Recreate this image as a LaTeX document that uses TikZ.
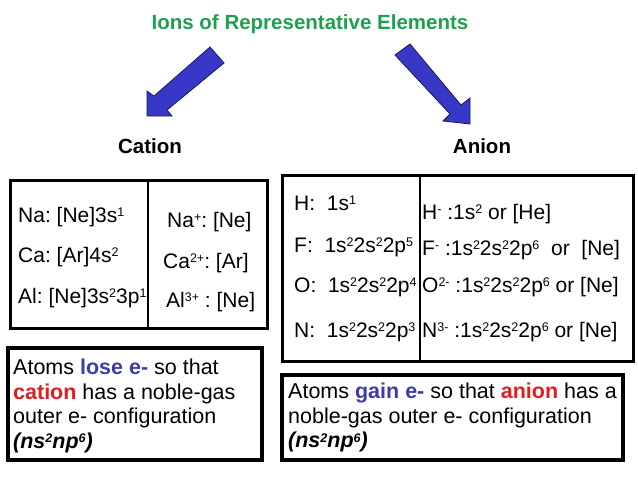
\documentclass[tikz,border=0pt]{standalone}
\usepackage{fontspec}
\setmainfont{Liberation Sans}
\usepackage{xcolor}
\definecolor{titlegreen}{RGB}{30,160,80}
\definecolor{arrowblue}{RGB}{56,56,200}
\definecolor{arrowedge}{RGB}{25,25,90}
\definecolor{textblue}{RGB}{60,60,175}
\definecolor{textred}{RGB}{225,30,30}
% small raised superscript, as in the slide
\newcommand{\sups}[1]{\raisebox{5.5pt}{\fontsize{12.5}{12.5}\selectfont #1}}
\tikzset{
  % style for the two big block arrows
  block arrow/.style={fill=arrowblue, draw=arrowedge, line width=0.8pt, line join=miter},
  % style for the frames of the tables and of the notes
  table frame/.style={draw=black, line width=3pt},
  note frame/.style={draw=black, line width=4pt},
  % styles for the texts
  heading/.style={anchor=base, inner sep=0pt, font=\bfseries\fontsize{20.5}{24}\selectfont},
  config/.style={anchor=base west, inner sep=0pt, font=\frenchspacing\fontsize{21}{24}\selectfont},
  notetext/.style={anchor=north west, inner sep=0pt, align=left, font=\frenchspacing\fontsize{21.5}{24.5}\selectfont},
}

\begin{document}
\begin{tikzpicture}[x=1pt, y=-1pt]
  \useasboundingbox (0,0) rectangle (638,479);
  % Draw the title and the headings
  \node[heading, text=titlegreen] (title) at (310,29) {Ions of Representative Elements};
  \node[heading] (cation) at (150,153) {Cation};
  \node[heading] (anion) at (482,153) {Anion};
  % Draw the block arrows
  \filldraw[block arrow] (210,47) -- (154,96) -- (147,91) -- (147,116) -- (172,116) -- (167,110) -- (224,63) -- cycle;
  \filldraw[block arrow] (410,44) -- (461,105) -- (470,98) -- (470,124) -- (443,121) -- (450,114) -- (395,55) -- cycle;
  % Draw the cation table
  \draw[table frame] (10,180) rectangle (267,328);
  \draw[line width=2.5pt] (148,180) -- (148,328);
  \foreach \tag/\y/\txt in {na/222/{Na: [Ne]3s\sups{1}},
                           ca/262/{Ca: [Ar]4s\sups{2}},
                           al/303/{Al: [Ne]3s\sups{2}3p\sups{1}}} {
    \node[config] (\tag) at (18,\y) {\txt};
  }
  \node[config] (naion) at (167,227) {Na\sups{+}: [Ne]};
  \node[config] (caion) at (163,268) {Ca\sups{2+}: [Ar]};
  \node[config] (alion) at (166,307) {Al\sups{3+} : [Ne]};
  % Draw the anion table
  \draw[table frame] (282,175) rectangle (633,361);
  \draw[line width=2.5pt] (420,175) -- (420,361);
  \node[config] (h) at (294,210) {H:~~1s\sups{1}};
  \node[config] (f) at (294,252) {F:~~1s\sups{2}2s\sups{2}2p\sups{5}};
  \node[config] (o) at (294,292) {O:~~1s\sups{2}2s\sups{2}2p\sups{4}};
  \node[config] (n) at (294,337) {N:~~1s\sups{2}2s\sups{2}2p\sups{3}};
  \node[config] (hion) at (422,219) {H\sups{-} :1s\sups{2} or [He]};
  \node[config] (fion) at (422,255) {F\sups{-} :1s\sups{2}2s\sups{2}2p\sups{6}~~or~~[Ne]};
  \node[config] (oion) at (422,292) {O\sups{2-} :1s\sups{2}2s\sups{2}2p\sups{6} or [Ne]};
  \node[config] (nion) at (422,337) {N\sups{3-} :1s\sups{2}2s\sups{2}2p\sups{6} or [Ne]};
  % Draw the notes
  \draw[note frame] (8,348) rectangle (262,460);
  \node[notetext] (lose) at (13,359) {Atoms \textcolor{textblue}{\textbf{lose e-}} so that\\
    \textcolor{textred}{\textbf{cation}} has a noble-gas\\
    outer e- configuration\\
    \textbf{\textit{(ns\sups{2}np\sups{6})}}};
  \draw[note frame] (282,375) rectangle (623,460);
  \node[notetext] (gain) at (288,383) {Atoms \textcolor{textblue}{\textbf{gain e-}} so that \textcolor{textred}{\textbf{anion}} has a\\
    noble-gas outer e- configuration\\
    \textbf{\textit{(ns\sups{2}np\sups{6})}}};
\end{tikzpicture}
\end{document}
